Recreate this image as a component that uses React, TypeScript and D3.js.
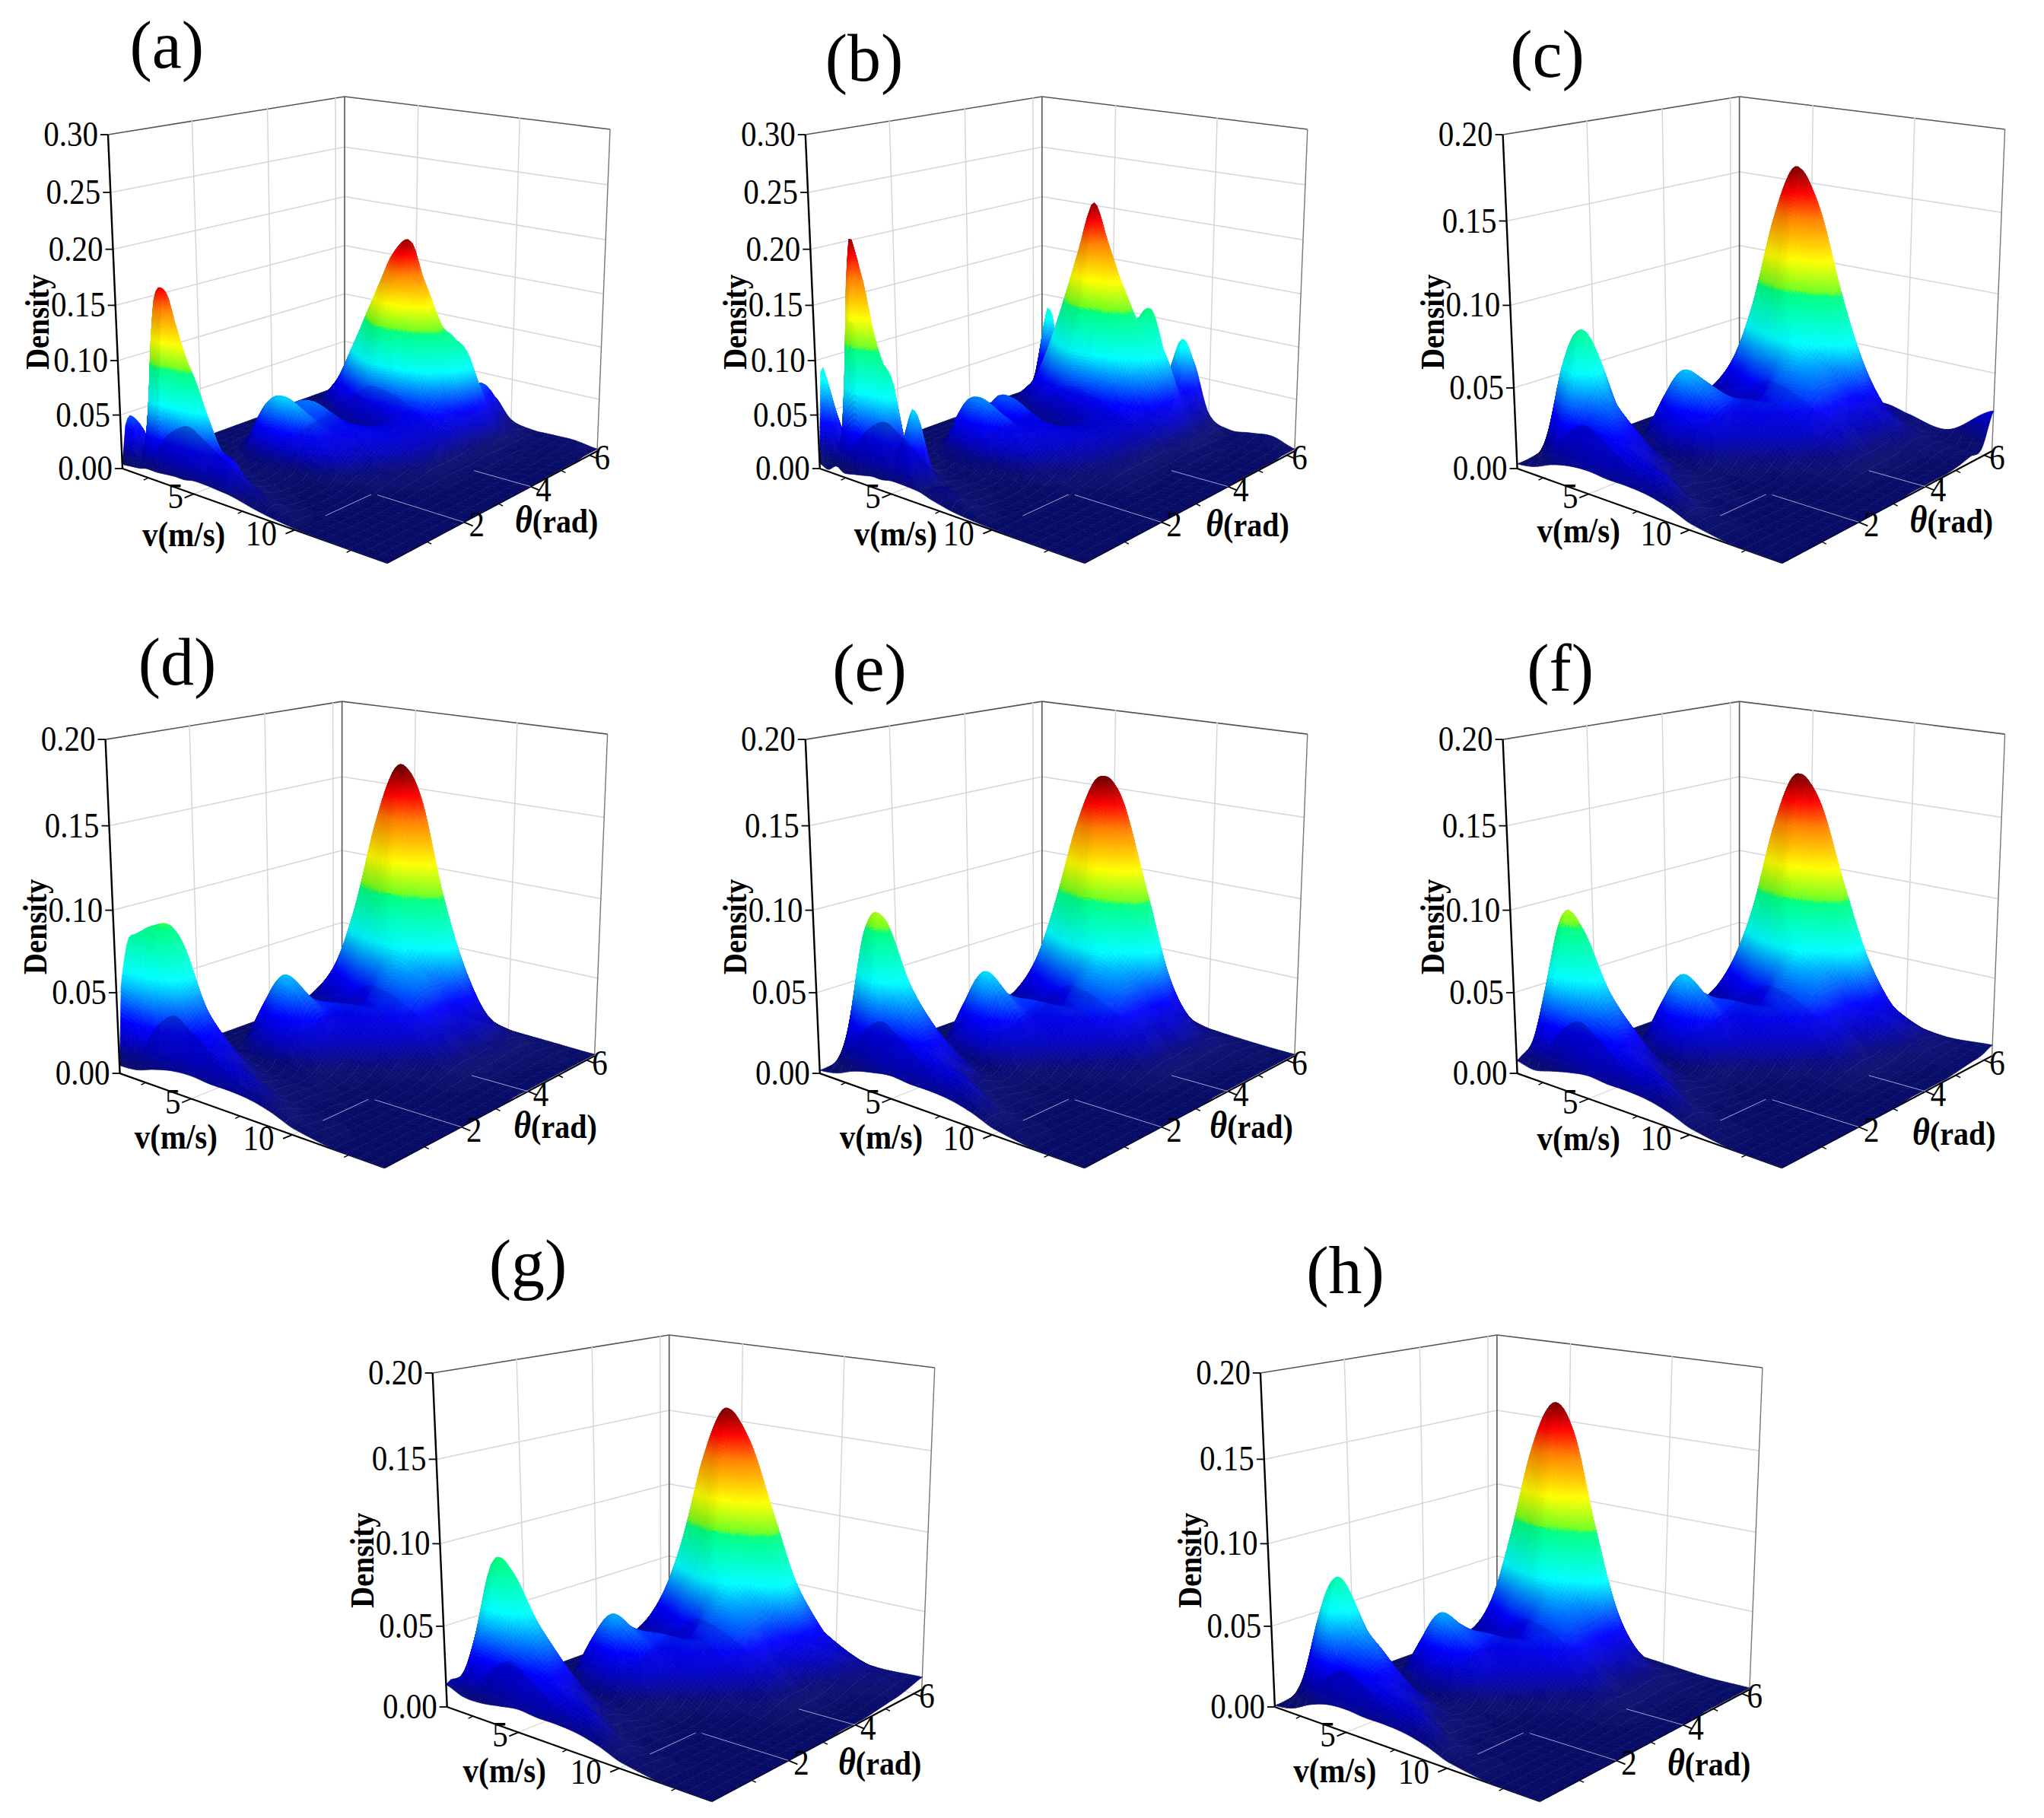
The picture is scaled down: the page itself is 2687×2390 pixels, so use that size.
import React, { useEffect, useRef } from "react";
import * as d3 from "d3";

// ---------- shared axes ----------
const zTicksHigh = [0, 0.05, 0.1, 0.15, 0.2, 0.25, 0.3];
const zTicksLow = [0, 0.05, 0.1, 0.15, 0.2];
const vTicks = [5, 10];
const vMinorTicks = [2.5, 7.5, 12.5];
const thetaTicks = [2, 4, 6];
const thetaMinorTicks = [1, 3, 5];
const panelLetters = ["(a)", "(b)", "(c)", "(d)", "(e)", "(f)", "(g)", "(h)"];

// ---------- sampled density, in 0.001 units; rows = v, columns = theta ----------
const vFine = [1, 1.5, 2, 2.4, 3, 3.5, 4, 4.5, 5, 5.7, 6.5, 7, 8, 9, 10, 11, 12, 13, 14];
const thetaFine = [0, 0.12, 0.3, 0.5, 0.8, 1.2, 1.6, 2, 2.4, 2.8, 3.2, 3.6, 4, 4.4, 4.7, 5, 5.2, 5.4, 5.6, 5.8, 6, 6.283];
const vCoarse = [1, 2, 3, 4, 5, 6, 7, 8, 9, 10, 12, 14];
const thetaCoarse = [0, 0.12, 0.39, 0.79, 1.18, 1.57, 1.96, 2.36, 2.75, 3.14, 3.53, 3.93, 4.32, 4.71, 5.11, 5.5, 5.89, 6.283];

const densityA = [
  [4, 40, 44, 12, 5, 3, 2, 2, 2, 2, 2, 2, 2, 3, 4, 4, 4, 4, 4, 4, 4, 5],
  [5, 36, 38, 14, 6, 4, 3, 3, 3, 3, 3, 3, 3, 4, 5, 6, 6, 6, 6, 14, 18, 5],
  [6, 22, 26, 16, 7, 5, 4, 4, 4, 4, 4, 4, 4, 6, 8, 12, 12, 12, 12, 36, 44, 6],
  [8, 60, 150, 60, 8, 5, 4, 4, 6, 6, 5, 4, 4, 7, 12, 20, 22, 20, 14, 24, 20, 5],
  [8, 90, 172, 100, 16, 6, 4, 6, 9, 10, 7, 5, 6, 10, 22, 36, 42, 36, 22, 10, 7, 4],
  [9, 76, 145, 84, 18, 6, 5, 12, 16, 14, 8, 5, 6, 16, 34, 58, 66, 54, 30, 12, 7, 4],
  [10, 66, 118, 66, 18, 7, 8, 26, 26, 18, 9, 6, 8, 24, 50, 80, 88, 70, 38, 14, 7, 4],
  [10, 56, 98, 54, 18, 7, 14, 48, 36, 30, 12, 7, 10, 32, 68, 104, 110, 88, 42, 15, 6, 4],
  [12, 44, 72, 42, 16, 7, 18, 60, 48, 46, 16, 8, 12, 44, 88, 128, 132, 104, 48, 16, 6, 4],
  [12, 28, 42, 24, 10, 6, 18, 62, 48, 50, 26, 14, 20, 62, 118, 158, 166, 128, 60, 18, 7, 4],
  [11, 26, 34, 18, 8, 5, 14, 52, 44, 44, 30, 18, 24, 66, 118, 170, 180, 134, 64, 20, 7, 4],
  [10, 18, 20, 12, 6, 4, 10, 42, 40, 38, 30, 22, 28, 66, 108, 150, 152, 126, 72, 22, 8, 4],
  [6, 12, 12, 6, 3, 2, 6, 26, 32, 36, 32, 30, 34, 58, 86, 105, 106, 96, 88, 30, 10, 4],
  [3, 6, 6, 3, 1, 1, 3, 10, 18, 26, 30, 30, 32, 44, 56, 72, 78, 84, 60, 48, 44, 30],
  [1, 1, 1, 1, 0, 0, 1, 4, 8, 12, 18, 20, 22, 24, 28, 32, 34, 32, 28, 20, 16, 10],
  [0, 0, 0, 0, 0, 0, 0, 1, 3, 4, 6, 6, 6, 8, 8, 8, 8, 8, 8, 8, 6, 5],
  [0, 0, 0, 0, 0, 0, 0, 0, 1, 1, 1, 2, 2, 2, 3, 3, 3, 3, 3, 4, 4, 5],
  [0, 0, 0, 0, 0, 0, 0, 0, 0, 0, 1, 1, 1, 1, 1, 1, 2, 2, 3, 3, 4, 5],
  [0, 0, 0, 0, 0, 0, 0, 0, 0, 0, 0, 0, 0, 1, 1, 1, 1, 1, 1, 2, 2, 2],
];

const densityB = [
  [5, 90, 64, 12, 5, 3, 2, 2, 2, 2, 2, 2, 2, 4, 4, 4, 4, 4, 4, 4, 6, 8],
  [2, 56, 44, 10, 5, 4, 3, 3, 3, 3, 3, 3, 3, 5, 6, 8, 8, 7, 6, 24, 40, 5],
  [8, 28, 26, 14, 7, 5, 4, 4, 4, 4, 4, 4, 4, 7, 12, 14, 14, 14, 14, 70, 90, 6],
  [4, 90, 205, 70, 8, 5, 4, 4, 6, 6, 5, 4, 4, 8, 16, 22, 22, 20, 18, 40, 34, 5],
  [6, 110, 185, 110, 18, 6, 4, 6, 9, 10, 7, 5, 6, 12, 26, 36, 40, 36, 24, 12, 8, 4],
  [8, 90, 140, 84, 20, 6, 5, 12, 16, 14, 8, 5, 6, 18, 36, 60, 70, 60, 34, 14, 8, 4],
  [10, 70, 112, 60, 20, 7, 8, 24, 26, 18, 9, 6, 8, 26, 50, 85, 100, 72, 40, 16, 8, 4],
  [10, 60, 98, 48, 18, 7, 14, 46, 38, 30, 12, 7, 10, 34, 72, 115, 130, 85, 42, 16, 7, 4],
  [12, 30, 45, 24, 16, 7, 18, 60, 40, 52, 16, 8, 12, 44, 94, 145, 165, 110, 48, 18, 7, 4],
  [12, 42, 76, 30, 10, 6, 18, 62, 38, 54, 26, 14, 20, 62, 112, 165, 215, 145, 66, 20, 8, 4],
  [11, 12, 16, 10, 8, 5, 14, 52, 40, 46, 30, 18, 24, 66, 110, 150, 178, 135, 70, 22, 8, 4],
  [8, 14, 14, 8, 6, 4, 10, 42, 40, 40, 30, 22, 28, 66, 106, 140, 150, 120, 72, 22, 8, 4],
  [4, 10, 10, 5, 3, 2, 6, 26, 34, 36, 32, 30, 34, 58, 88, 110, 108, 100, 118, 50, 14, 6],
  [2, 4, 4, 2, 1, 1, 3, 10, 20, 28, 30, 30, 32, 46, 64, 78, 86, 84, 60, 50, 88, 68],
  [1, 1, 1, 1, 0, 0, 1, 4, 8, 14, 18, 20, 22, 26, 32, 38, 38, 32, 30, 30, 24, 16],
  [0, 0, 0, 0, 0, 0, 0, 1, 3, 5, 6, 6, 6, 8, 10, 10, 10, 8, 8, 8, 6, 5],
  [0, 0, 0, 0, 0, 0, 0, 0, 1, 1, 1, 2, 2, 2, 3, 3, 3, 3, 3, 4, 5, 7],
  [0, 0, 0, 0, 0, 0, 0, 0, 0, 0, 1, 1, 1, 1, 1, 1, 2, 2, 3, 3, 6, 9],
  [0, 0, 0, 0, 0, 0, 0, 0, 0, 0, 0, 0, 0, 1, 1, 1, 1, 1, 1, 2, 2, 2],
];

const densityC = [
  [3, 3, 4, 6, 6, 4, 2, 2, 2, 2, 2, 2, 3, 4, 5, 5, 4, 4],
  [5, 8, 16, 62, 46, 12, 4, 3, 4, 4, 4, 5, 8, 13, 18, 14, 7, 5],
  [10, 14, 44, 84, 66, 20, 5, 8, 12, 12, 8, 6, 12, 24, 40, 28, 10, 6],
  [13, 20, 36, 56, 40, 14, 10, 32, 40, 28, 14, 10, 20, 38, 80, 58, 16, 7],
  [14, 22, 36, 40, 28, 10, 20, 52, 48, 30, 20, 16, 30, 62, 134, 92, 26, 8],
  [13, 20, 30, 26, 18, 8, 18, 44, 44, 34, 26, 24, 40, 82, 166, 122, 34, 9],
  [13, 18, 24, 16, 12, 6, 12, 30, 34, 36, 32, 40, 54, 78, 146, 118, 38, 10],
  [12, 16, 20, 9, 7, 4, 4, 12, 24, 34, 36, 44, 52, 60, 100, 80, 30, 12],
  [9, 12, 12, 4, 4, 2, 2, 4, 12, 24, 34, 42, 44, 44, 58, 46, 18, 14],
  [4, 5, 5, 2, 2, 1, 1, 2, 5, 10, 18, 22, 22, 24, 26, 22, 12, 11],
  [0, 0, 0, 0, 0, 0, 0, 0, 1, 2, 3, 4, 4, 5, 8, 8, 5, 7],
  [0, 0, 0, 0, 0, 0, 0, 0, 0, 0, 1, 1, 1, 1, 2, 4, 5, 26],
];

const densityD = [
  [5, 55, 82, 55, 12, 4, 2, 2, 2, 2, 2, 2, 3, 4, 5, 5, 3, 3],
  [6, 50, 88, 78, 26, 7, 4, 3, 4, 4, 4, 5, 8, 13, 18, 14, 6, 3],
  [10, 40, 84, 80, 24, 8, 5, 8, 14, 14, 8, 6, 12, 24, 40, 28, 8, 4],
  [13, 26, 40, 46, 24, 10, 14, 34, 36, 28, 14, 10, 20, 38, 82, 56, 14, 4],
  [14, 22, 30, 30, 16, 8, 26, 54, 42, 30, 20, 16, 30, 64, 136, 92, 24, 4],
  [13, 20, 24, 18, 10, 6, 24, 46, 38, 34, 26, 24, 40, 84, 170, 120, 30, 4],
  [13, 18, 20, 10, 7, 5, 14, 30, 32, 36, 32, 40, 54, 80, 156, 116, 32, 4],
  [12, 14, 14, 6, 5, 4, 5, 12, 24, 34, 36, 44, 52, 60, 102, 78, 26, 4],
  [9, 10, 8, 3, 3, 2, 2, 4, 12, 24, 34, 42, 44, 44, 56, 44, 16, 4],
  [4, 5, 4, 2, 2, 1, 1, 2, 5, 10, 18, 22, 22, 24, 24, 18, 10, 3],
  [0, 0, 0, 0, 0, 0, 0, 0, 1, 2, 3, 4, 4, 5, 6, 6, 4, 2],
  [0, 0, 0, 0, 0, 0, 0, 0, 0, 0, 1, 1, 1, 1, 1, 1, 1, 1],
];

const densityE = [
  [2, 2, 3, 6, 5, 3, 2, 2, 2, 2, 2, 2, 3, 4, 5, 5, 3, 3],
  [4, 8, 30, 84, 50, 10, 4, 3, 4, 4, 4, 5, 8, 13, 18, 14, 6, 3],
  [9, 14, 48, 96, 56, 16, 5, 8, 12, 12, 8, 6, 12, 26, 42, 28, 8, 4],
  [12, 20, 40, 64, 42, 14, 14, 34, 36, 28, 14, 10, 20, 40, 84, 56, 14, 5],
  [14, 22, 36, 44, 30, 10, 26, 56, 44, 32, 20, 16, 30, 64, 132, 94, 26, 6],
  [13, 20, 30, 28, 20, 8, 24, 46, 38, 36, 26, 24, 40, 84, 162, 124, 34, 7],
  [13, 18, 24, 16, 12, 6, 14, 30, 32, 36, 32, 40, 54, 80, 152, 128, 40, 8],
  [12, 16, 20, 9, 7, 4, 5, 12, 24, 34, 36, 44, 52, 62, 100, 92, 32, 8],
  [9, 12, 12, 4, 4, 2, 2, 4, 12, 24, 34, 42, 44, 46, 58, 46, 20, 7],
  [4, 5, 5, 2, 2, 1, 1, 2, 5, 10, 18, 22, 22, 24, 24, 18, 10, 4],
  [0, 0, 0, 0, 0, 0, 0, 0, 1, 2, 3, 4, 4, 5, 6, 6, 4, 2],
  [0, 0, 0, 0, 0, 0, 0, 0, 0, 0, 1, 1, 1, 1, 1, 1, 1, 1],
];

const densityF = [
  [8, 10, 14, 14, 8, 4, 2, 2, 2, 2, 2, 2, 3, 4, 5, 5, 4, 4],
  [6, 12, 54, 92, 58, 12, 4, 3, 4, 4, 4, 5, 8, 13, 18, 14, 7, 5],
  [9, 14, 50, 90, 56, 16, 5, 8, 12, 12, 8, 6, 12, 26, 42, 28, 10, 6],
  [12, 20, 40, 60, 42, 12, 14, 34, 36, 28, 14, 10, 20, 40, 80, 58, 20, 7],
  [14, 22, 36, 42, 30, 10, 26, 54, 44, 32, 20, 16, 30, 64, 132, 96, 32, 9],
  [13, 20, 30, 26, 18, 8, 24, 46, 38, 36, 26, 24, 40, 84, 164, 126, 44, 10],
  [13, 18, 24, 16, 12, 6, 14, 30, 32, 36, 32, 40, 54, 80, 150, 130, 52, 10],
  [12, 16, 20, 9, 7, 4, 5, 12, 24, 34, 36, 44, 52, 62, 104, 96, 48, 10],
  [9, 12, 12, 4, 4, 2, 2, 4, 12, 24, 34, 42, 44, 46, 64, 58, 36, 10],
  [4, 5, 5, 2, 2, 1, 1, 2, 5, 10, 18, 22, 22, 26, 32, 30, 20, 8],
  [0, 0, 0, 0, 0, 0, 0, 0, 1, 2, 3, 4, 4, 6, 9, 9, 8, 5],
  [0, 0, 0, 0, 0, 0, 0, 0, 0, 0, 1, 1, 1, 1, 2, 3, 4, 7],
];

const densityG = [
  [14, 16, 14, 10, 6, 4, 2, 2, 2, 2, 2, 2, 3, 4, 6, 6, 7, 9],
  [10, 14, 46, 84, 52, 12, 4, 3, 4, 4, 4, 5, 8, 13, 18, 14, 9, 7],
  [10, 14, 46, 84, 52, 16, 5, 8, 12, 12, 8, 6, 12, 26, 42, 28, 12, 7],
  [12, 20, 40, 60, 42, 12, 12, 32, 36, 28, 14, 10, 20, 38, 82, 56, 20, 8],
  [14, 22, 36, 44, 30, 10, 22, 50, 42, 32, 20, 16, 30, 62, 134, 94, 34, 9],
  [13, 20, 30, 26, 18, 8, 20, 42, 38, 36, 26, 24, 40, 84, 164, 124, 46, 11],
  [13, 18, 24, 16, 12, 6, 12, 30, 32, 36, 32, 40, 54, 78, 146, 128, 54, 12],
  [12, 16, 20, 9, 7, 4, 5, 12, 24, 34, 36, 44, 52, 60, 104, 98, 52, 12],
  [9, 12, 12, 4, 4, 2, 2, 4, 12, 24, 34, 42, 44, 48, 66, 60, 42, 12],
  [4, 5, 5, 2, 2, 1, 1, 2, 5, 10, 18, 22, 22, 28, 34, 34, 26, 10],
  [0, 0, 0, 0, 0, 0, 0, 0, 1, 2, 3, 4, 4, 6, 10, 12, 12, 7],
  [0, 0, 0, 0, 0, 0, 0, 0, 0, 0, 1, 1, 1, 2, 3, 4, 6, 8],
];

const densityH = [
  [1, 1, 2, 3, 3, 2, 2, 2, 2, 2, 2, 2, 3, 4, 4, 3, 2, 1],
  [3, 5, 22, 56, 36, 8, 3, 3, 4, 4, 4, 5, 7, 10, 12, 8, 4, 2],
  [9, 14, 52, 80, 54, 16, 5, 8, 10, 10, 8, 6, 12, 22, 36, 20, 7, 3],
  [13, 20, 40, 56, 40, 14, 10, 30, 36, 26, 14, 10, 20, 36, 84, 48, 12, 4],
  [14, 22, 36, 44, 30, 10, 18, 50, 44, 30, 20, 16, 30, 62, 138, 82, 20, 4],
  [13, 20, 30, 28, 20, 8, 16, 42, 40, 36, 26, 24, 38, 82, 168, 106, 26, 5],
  [13, 18, 24, 18, 14, 6, 10, 30, 32, 36, 32, 38, 50, 74, 154, 98, 26, 5],
  [12, 16, 20, 10, 8, 4, 4, 12, 24, 34, 36, 42, 48, 56, 100, 68, 20, 5],
  [9, 12, 12, 4, 4, 2, 2, 4, 12, 24, 34, 40, 40, 42, 50, 34, 12, 4],
  [4, 5, 5, 2, 2, 1, 1, 2, 5, 10, 18, 20, 18, 20, 20, 14, 7, 3],
  [0, 0, 0, 0, 0, 0, 0, 0, 1, 2, 3, 3, 3, 4, 5, 4, 3, 1],
  [0, 0, 0, 0, 0, 0, 0, 0, 0, 0, 0, 0, 0, 1, 1, 1, 1, 1],
];

const densityTables = [densityA, densityB, densityC, densityD, densityE, densityF, densityG, densityH];
const colourTops = [190, 222, 170, 172, 166, 168, 168, 172];
const axisTops = [0.3, 0.3, 0.2, 0.2, 0.2, 0.2, 0.2, 0.2];

// ridges seen through the semi-transparent sheet: crest speed and density of the near hill
const nearRidgeSpeed = [4.05, 4.05, 4.2, 3.5, 3.9, 3.9, 3.9, 4.3];
const nearRidgeDensity = [0.052, 0.056, 0.036, 0.042, 0.04, 0.04, 0.036, 0.032];
const nearRidgeOffsets = [-1.7, -1, 0, 0.8, 1.8, 2.8, 3.8, 4.8];
const nearRidgeShape = [0.4, 0.76, 1, 0.88, 0.65, 0.41, 0.24, 0.12];
const ridgeOneSpeed = [3.5, 4.5, 5.5, 6, 7, 8, 9, 10, 11, 12];
const ridgeOneDensity = [0.004, 0.016, 0.032, 0.036, 0.034, 0.028, 0.02, 0.012, 0.005, 0.001];
const ridgeTwoSpeed = [4, 5, 6, 6.5, 7.5, 8.5, 9.5, 10.5, 11.5];
const ridgeTwoDensity = [0.006, 0.02, 0.034, 0.039, 0.036, 0.028, 0.018, 0.008, 0.002];
const RIDGE_ONE_THETA = 4.3;
const RIDGE_TWO_THETA = 3.5;
const NEAR_RIDGE_THETA = 0.3;

// ---------- layout (px) ----------
const S = 2687 / 1568;
const panelOffsets = [[0, 0], [535, 0], [1070, 0], [-2, 464], [535, 464], [1070, 464], [249, 950], [884, 950]];
const titleAnchors = [[128, 52], [663, 62], [1187, 59], [136, 525], [667, 530], [1197, 530], [405, 987], [1032, 992]];
const speedLabelAnchors = [[141, 411], [152, 410], [141, 408], [137, 409], [141, 409], [141, 410], [138, 409], [140, 409]];
const angleLabelAnchors = [[427, 400], [422, 403], [427, 400], [428, 401], [425, 401], [429, 406], [426, 403], [427, 404]];
const FLOOR = { L: [161, 616], F: [509, 740], R: [785, 593], B: [453, 510] };
const TOP = { L: [142, 177], R: [802, 170], B: [453, 127] };
const V_DOMAIN = [1, 14];
const THETA_DOMAIN = [0, 6.283];
const N_U = 96;
const N_W = 110;
const MESH_EVERY = 4;

const jet = d3
  .scaleLinear<string>()
  .domain([0, 0.035, 0.06, 0.12, 0.19, 0.36, 0.53, 0.54, 0.65, 0.8, 0.89, 1])
  .range(["#060a64", "#080d6e", "#07087a", "#0000c0", "#0000ff", "#00ffff", "#00ff80", "#70ff20", "#ffff00", "#ff8000", "#ff0000", "#5e0000"])
  .clamp(true);

function makeHomography(p0: number[], p1: number[], p2: number[], p3: number[]) {
  const sx = p0[0] - p1[0] + p2[0] - p3[0];
  const sy = p0[1] - p1[1] + p2[1] - p3[1];
  const dx1 = p1[0] - p2[0], dx2 = p3[0] - p2[0], dy1 = p1[1] - p2[1], dy2 = p3[1] - p2[1];
  const den = dx1 * dy2 - dx2 * dy1;
  const g = (sx * dy2 - dx2 * sy) / den;
  const h = (dx1 * sy - sx * dy1) / den;
  const a = p1[0] - p0[0] + g * p1[0], b = p3[0] - p0[0] + h * p3[0], c = p0[0];
  const d = p1[1] - p0[1] + g * p1[1], e = p3[1] - p0[1] + h * p3[1], f = p0[1];
  return (u: number, w: number) => {
    const q = g * u + h * w + 1;
    return [(a * u + b * w + c) / q, (d * u + e * w + f) / q];
  };
}

const floorAt = makeHomography(FLOOR.L, FLOOR.F, FLOOR.R, FLOOR.B);
const offL = [TOP.L[0] - FLOOR.L[0], TOP.L[1] - FLOOR.L[1]];
const offR = [TOP.R[0] - FLOOR.R[0], TOP.R[1] - FLOOR.R[1]];
const offB = [TOP.B[0] - FLOOR.B[0], TOP.B[1] - FLOOR.B[1]];
const offF = [offL[0] + offR[0] - offB[0], offL[1] + offR[1] - offB[1]];

function project(u: number, w: number, h0: number) {
  const h = h0 * 0.955 + 0.045 * h0 * h0;
  const p = floorAt(u, w);
  const ox = (1 - u) * (1 - w) * offL[0] + u * (1 - w) * offF[0] + u * w * offR[0] + (1 - u) * w * offB[0];
  const oy = (1 - u) * (1 - w) * offL[1] + u * (1 - w) * offF[1] + u * w * offR[1] + (1 - u) * w * offB[1];
  return [p[0] + h * ox, p[1] + h * oy];
}

const vToU = d3.scaleLinear().domain(V_DOMAIN).range([0, 1]).clamp(true);
const thetaToW = d3.scaleLinear().domain(THETA_DOMAIN).range([0, 1]).clamp(true);

function cr(a: number, b: number, c: number, d: number, t: number) {
  return 0.5 * (2 * b + (c - a) * t + (2 * a - 5 * b + 4 * c - d) * t * t + (3 * b - a - 3 * c + d) * t * t * t);
}

function sampleTable(table: number[][], vs: number[], thetas: number[]) {
  const vIdx = d3.scaleLinear().domain(vs).range(vs.map((_, i) => i)).clamp(true);
  const tIdx = d3.scaleLinear().domain(thetas).range(thetas.map((_, i) => i)).clamp(true);
  const R = vs.length, C = thetas.length;
  const out: number[][] = [];
  const at = (r: number, c: number) => table[Math.max(0, Math.min(R - 1, r))][Math.max(0, Math.min(C - 1, c))];
  for (let i = 0; i <= N_U; i++) {
    const row: number[] = [];
    const ri = vIdx(vToU.invert(i / N_U));
    const r0 = Math.min(R - 2, Math.floor(ri));
    const rt = ri - r0;
    for (let j = 0; j <= N_W; j++) {
      const ci = tIdx(thetaToW.invert(j / N_W));
      const c0 = Math.min(C - 2, Math.floor(ci));
      const ct = ci - c0;
      const col = [-1, 0, 1, 2].map((dr) => cr(at(r0 + dr, c0 - 1), at(r0 + dr, c0), at(r0 + dr, c0 + 1), at(r0 + dr, c0 + 2), ct));
      const lo = Math.min(at(r0, c0), at(r0 + 1, c0), at(r0, c0 + 1), at(r0 + 1, c0 + 1));
      const hi = Math.max(at(r0, c0), at(r0 + 1, c0), at(r0, c0 + 1), at(r0 + 1, c0 + 1));
      let val = cr(col[0], col[1], col[2], col[3], rt);
      val = Math.max(lo - 2, Math.min(hi * 1.06 + 1, val));
      row.push(Math.max(0, val));
    }
    out.push(row);
  }
  return out;
}

const fmt = (n: number) => n.toFixed(1);
const line = (a: number[], b: number[], dx: number, dy: number, stroke: string, width: number) =>
  `<line x1="${fmt(a[0] + dx)}" y1="${fmt(a[1] + dy)}" x2="${fmt(b[0] + dx)}" y2="${fmt(b[1] + dy)}" stroke="${stroke}" stroke-width="${width}"/>`;
const tallText = (x: number, y: number, str: string, size: number, anchor: string, extra = "") =>
  `<text transform="translate(${fmt(x)} ${fmt(y)}) scale(1 1.13)" text-anchor="${anchor}" font-size="${size}" ${extra}>${str}</text>`;

function surfaceMarkup(idx: number) {
  const fine = idx < 2;
  const Z = sampleTable(densityTables[idx], fine ? vFine : vCoarse, fine ? thetaFine : thetaCoarse);
  const top = axisTops[idx];
  const cTop = colourTops[idx];
  const STEP = cTop * 0.014;
  const parts: string[] = [];
  let curFill = "";
  let curD = "";
  const flush = () => {
    if (curD) parts.push(`<path d="${curD}" fill="${curFill}" stroke="${curFill}"/>`);
    curD = "";
  };
  const memo = new Map<string, string>();
  for (let j = N_W - 1; j >= 0; j--) {
    for (let i = 0; i < N_U; i++) {
      const z00 = Z[i][j], z10 = Z[i + 1][j], z01 = Z[i][j + 1], z11 = Z[i + 1][j + 1];
      const gu = (z10 + z11 - z00 - z01) / 2 / top / 1000;
      const gw = (z01 + z11 - z00 - z10) / 2 / top / 1000;
      const su = Math.atan(gu * N_U * 1.6) / (Math.PI / 2);
      const sw = Math.atan(gw * N_W * 1.6) / (Math.PI / 2);
      const s = Math.round((-0.42 * su - 0.16 * sw) * 12) / 12;
      const nu = Math.min(8, Math.max(1, Math.ceil(Math.abs(z10 + z11 - z00 - z01) / 2 / STEP)));
      const nw = Math.min(10, Math.max(1, Math.ceil(Math.abs(z01 + z11 - z00 - z10) / 2 / STEP)));
      for (let b = nw - 1; b >= 0; b--) {
        for (let a = 0; a < nu; a++) {
          const zAt = (fu: number, fw: number) =>
            z00 * (1 - fu) * (1 - fw) + z10 * fu * (1 - fw) + z01 * (1 - fu) * fw + z11 * fu * fw;
          const pt = (fu: number, fw: number) =>
            project((i + fu) / N_U, (j + fw) / N_W, zAt(fu, fw) / 1000 / top);
          const zMid = zAt((a + 0.5) / nu, (b + 0.5) / nw);
          const t = Math.round((zMid / cTop) * 260) / 260;
          const key = `${t}|${s}`;
          let fill = memo.get(key);
          if (!fill) {
            const base = jet(t);
            fill = d3.rgb(s > 0 ? d3.interpolateRgb(base, "#ffffff")(s * 0.14) : d3.interpolateRgb(base, "#000000")(-s * 0.14)).formatHex();
            memo.set(key, fill);
          }
          if (fill !== curFill) {
            flush();
            curFill = fill;
          }
          const p1 = pt(a / nu, b / nw), p2 = pt((a + 1) / nu, b / nw), p3 = pt((a + 1) / nu, (b + 1) / nw), p4 = pt(a / nu, (b + 1) / nw);
          curD += `M${fmt(p1[0])} ${fmt(p1[1])}L${fmt(p2[0])} ${fmt(p2[1])}L${fmt(p3[0])} ${fmt(p3[1])}L${fmt(p4[0])} ${fmt(p4[1])}Z`;
        }
      }
      const zAvg = (z00 + z10 + z01 + z11) / 4;
      if (zAvg < 10 && (i % MESH_EVERY === 0 || j % MESH_EVERY === 0)) {
        flush();
        const A = project(i / N_U, j / N_W, z00 / 1000 / top);
        const B = project((i + 1) / N_U, j / N_W, z10 / 1000 / top);
        const D = project(i / N_U, (j + 1) / N_W, z01 / 1000 / top);
        let m = "";
        if (i % MESH_EVERY === 0) m += `M${fmt(A[0])} ${fmt(A[1])}L${fmt(D[0])} ${fmt(D[1])}`;
        if (j % MESH_EVERY === 0) m += `M${fmt(A[0])} ${fmt(A[1])}L${fmt(B[0])} ${fmt(B[1])}`;
        parts.push(`<path d="${m}" fill="none" stroke="#7e8ad0" stroke-opacity="0.2" stroke-width="0.8"/>`);
        curFill = "";
      }
    }
  }
  flush();
  return parts.join("");
}

const ridgeLine = d3.line().curve(d3.curveCatmullRom);

function ghostRidge(vs: number[], zs: number[], theta: number, baseTheta: number, baseZ: number, top: number, fill: string) {
  const crest = vs.map((v, i) => project(vToU(v), thetaToW(theta), zs[i] / top)) as [number, number][];
  const base = vs
    .map((v) => project(vToU(v), thetaToW(baseTheta), baseZ / top))
    .reverse() as [number, number][];
  return `<path d="${ridgeLine(crest)}L${base.map((p) => `${fmt(p[0])} ${fmt(p[1])}`).join("L")}Z" fill="url(#${fill})"/>`;
}

function panelMarkup(idx: number) {
  const [dx, dy] = panelOffsets[idx].map((n) => n * S);
  const top = axisTops[idx];
  const zTicks = top > 0.25 ? zTicksHigh : zTicksLow;
  const GRID = "#d6d6d6";
  const o: string[] = [];
  // back walls
  zTicks.slice(1).forEach((z) => {
    const h = z / top;
    o.push(line(project(0, 0, h), project(0, 1, h), dx, dy, z === top ? "#555" : GRID, z === top ? 1.6 : 1.5));
    o.push(line(project(0, 1, h), project(1, 1, h), dx, dy, z === top ? "#555" : GRID, z === top ? 1.6 : 1.5));
  });
  thetaTicks.forEach((th) => o.push(line(project(0, thetaToW(th), 0), project(0, thetaToW(th), 1), dx, dy, GRID, 1.5)));
  vTicks.forEach((v) => o.push(line(project(vToU(v), 1, 0), project(vToU(v), 1, 1), dx, dy, GRID, 1.5)));
  // floor grid, mostly hidden by the surface
  vTicks.forEach((v) => o.push(line(project(vToU(v), 0, 0), project(vToU(v), 1, 0), dx, dy, GRID, 1.2)));
  thetaTicks.forEach((th) => o.push(line(project(0, thetaToW(th), 0), project(1, thetaToW(th), 0), dx, dy, GRID, 1.2)));
  o.push(line(project(0, 1, 0), project(0, 1, 1), dx, dy, "#555", 1.6));
  o.push(line(project(1, 1, 0), project(1, 1, 1), dx, dy, "#777", 1.4));
  // floor axes under the surface
  o.push(line(project(0, 0, 0), project(1, 0, 0), dx, dy, "#000", 2.2));
  o.push(line(project(1, 0, 0), project(1, 1, 0), dx, dy, "#000", 2.2));
  o.push(`<g transform="translate(${fmt(dx)} ${fmt(dy)})" stroke-width="0.7" stroke-linejoin="round">${surfaceMarkup(idx)}`);
  // near ridges seen through the sheet
  const scale = top > 0.25 ? 1.35 : 1;
  o.push(ghostRidge(ridgeOneSpeed, ridgeOneDensity.map((z) => z * scale), RIDGE_ONE_THETA, 3.2, 0.004, top, "ghostSoft"));
  o.push(ghostRidge(ridgeTwoSpeed, ridgeTwoDensity.map((z) => z * scale), RIDGE_TWO_THETA, 2.6, 0.006, top, "ghostSoft"));
  const nearV = nearRidgeOffsets.map((d) => nearRidgeSpeed[idx] + d);
  const nearZ = nearRidgeShape.map((f) => f * nearRidgeDensity[idx]);
  o.push(ghostRidge(nearV, nearZ, NEAR_RIDGE_THETA, 0.1, 0.016, top, "ghostStrong"));
  o.push(`</g>`);
  // z-fighting floor lines that show through the mesh
  const glint = "#9aa6cc";
  o.push(line(project(vToU(10), thetaToW(0.75), 0), project(vToU(10), thetaToW(1.95), 0), dx, dy, glint, 1));
  o.push(line(project(1, thetaToW(2), 0), project(vToU(10.2), thetaToW(2), 0), dx, dy, glint, 1));
  o.push(line(project(1, thetaToW(4), 0), project(vToU(11.5), thetaToW(4), 0), dx, dy, glint, 1));
  // z axis
  o.push(line(project(0, 0, 0), project(0, 0, 1), dx, dy, "#000", 2.4));
  zTicks.forEach((z) => {
    const p = project(0, 0, z / top);
    o.push(line(p, [p[0] - 10, p[1]], dx, dy, "#000", 1.8));
    o.push(tallText(p[0] + dx - 13, p[1] + dy + 15, z.toFixed(2), 41, "end"));
  });
  // v axis ticks
  vTicks.forEach((v) => {
    const p = project(vToU(v), 0, 0);
    o.push(line(p, [p[0] - 12, p[1] + 5], dx, dy, "#000", 1.8));
    o.push(tallText(p[0] + dx - (v >= 10 ? 44 : 24), p[1] + dy + (v >= 10 ? 20 : 19), String(v), 41, "middle"));
  });
  vMinorTicks.forEach((v) => {
    const p = project(vToU(v), 0, 0);
    o.push(line(p, [p[0] - 6, p[1] + 3], dx, dy, "#000", 1.5));
  });
  // theta axis ticks
  thetaTicks.forEach((th) => {
    const p = project(1, thetaToW(th), 0);
    o.push(line(p, [p[0] + 12, p[1] + 5], dx, dy, "#000", 1.8));
    o.push(tallText(p[0] + dx + 17, p[1] + dy + 19, String(th), 41, "middle"));
  });
  thetaMinorTicks.forEach((th) => {
    const p = project(1, thetaToW(th), 0);
    o.push(line(p, [p[0] + 6, p[1] + 3], dx, dy, "#000", 1.5));
  });
  // labels
  const dy0 = 247 * S + dy;
  const dx0 = 30 * S + dx;
  o.push(`<text transform="translate(${fmt(dx0 + 13)} ${fmt(dy0)}) rotate(-90) scale(1 1.15)" text-anchor="middle" font-size="39" font-weight="700">Density</text>`);
  const sl = speedLabelAnchors[idx];
  o.push(tallText(sl[0] * S + dx, sl[1] * S + dy + 14, "v(m/s)", 41, "middle", 'font-weight="700"'));
  const al = angleLabelAnchors[idx];
  o.push(tallText(al[0] * S + dx, al[1] * S + dy + 14, '<tspan font-style="italic" font-size="44">θ</tspan>(rad)', 40, "middle", 'font-weight="700"'));
  const t = titleAnchors[idx];
  o.push(`<text x="${fmt(t[0] * S)}" y="${fmt(t[1] * S)}" text-anchor="middle" font-size="88">${panelLetters[idx]}</text>`);
  return o.join("");
}

export default function App() {
  const ref = useRef<SVGSVGElement | null>(null);
  useEffect(() => {
    const svg = d3.select(ref.current);
    svg.selectAll("*").remove();
    svg.append("defs").html(
      `<linearGradient id="ghostStrong" x1="0" y1="0" x2="0" y2="1"><stop offset="0" stop-color="#00008c" stop-opacity="0.42"/><stop offset="1" stop-color="#00008c" stop-opacity="0.1"/></linearGradient>` +
        `<linearGradient id="ghostSoft" x1="0" y1="0" x2="0" y2="1"><stop offset="0" stop-color="#0000a8" stop-opacity="0.24"/><stop offset="0.7" stop-color="#0000a8" stop-opacity="0"/></linearGradient>`
    );
    panelLetters.forEach((_, idx) => {
      svg.append("g").attr("class", `panel-${idx}`).html(panelMarkup(idx));
    });
  }, []);
  return (
    <svg
      ref={ref}
      width={2687}
      height={2390}
      viewBox="0 0 2687 2390"
      style={{ position: "absolute", left: 0, top: 0, background: "#fff", fontFamily: "'Liberation Serif', 'Times New Roman', serif" }}
    />
  );
}
